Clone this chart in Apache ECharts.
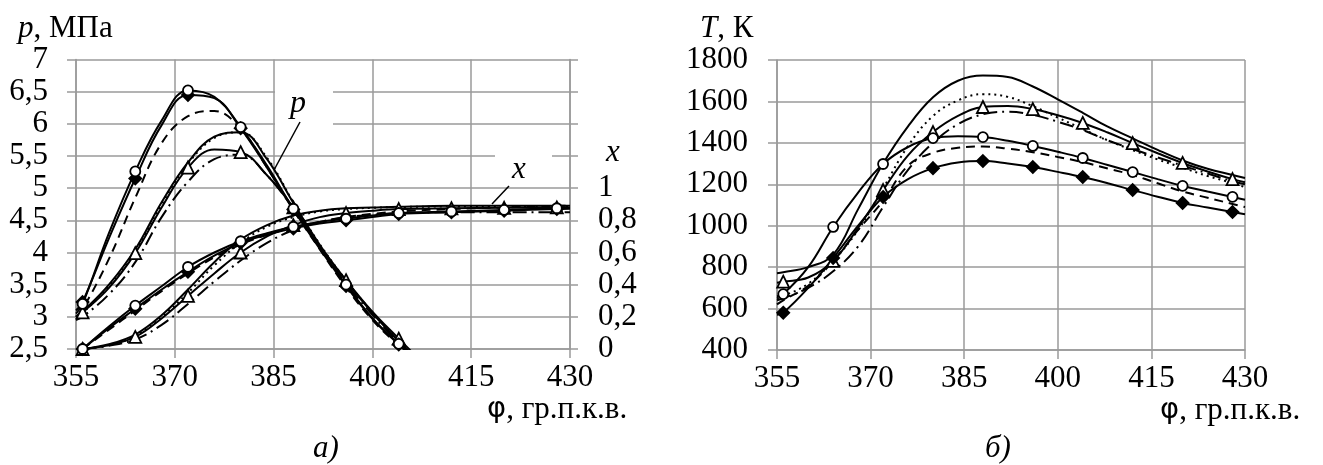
<!DOCTYPE html>
<html>
<head>
<meta charset="utf-8">
<script src="https://cdn.jsdelivr.net/npm/echarts@6/dist/echarts.min.js"></script>
<style>
html,body{margin:0;padding:0;background:#fff;}
#c{width:1323px;height:465px;}
</style>
</head>
<body>
<div id="c"></div>
<script>
// ---------- data: panel a) pressure p (MPa) ----------
const phiP = [355,356,360,364,368,372,376,380,384,388,392,396,400,404,408];
const pCircle  = [3.05,3.20,4.30,5.26,6.05,6.52,6.42,5.95,5.35,4.68,4.08,3.50,2.98,2.58,2.20];
const pDiamond = [3.10,3.23,4.22,5.15,5.98,6.45,6.40,5.93,5.32,4.67,4.06,3.48,2.97,2.57,2.18];
const pDashed  = [3.00,3.12,3.90,4.85,5.70,6.12,6.20,5.92,5.32,4.66,4.05,3.46,2.95,2.55,2.15];
const pSolid   = [3.00,3.08,3.50,4.05,4.78,5.40,5.80,5.87,5.45,4.77,4.12,3.56,3.06,2.62,2.22];
const pDotted  = [3.00,3.06,3.48,4.02,4.75,5.38,5.78,5.87,5.47,4.78,4.13,3.57,3.07,2.63,2.23];
const pTri     = [3.00,3.07,3.45,3.99,4.70,5.32,5.60,5.56,5.20,4.70,4.10,3.57,3.08,2.66,2.25];
const pDashDot = [2.95,3.00,3.35,3.85,4.55,5.10,5.45,5.52,5.20,4.68,4.08,3.52,3.03,2.60,2.20];

// ---------- data: panel a) burn fraction x ----------
const phiX = [356,360,364,368,372,376,380,384,388,392,396,400,404,412,420,428,430];
const xCircle  = [0,0.14,0.27,0.39,0.51,0.60,0.67,0.72,0.76,0.79,0.81,0.83,0.845,0.855,0.865,0.875,0.877];
const xDiamond = [0,0.13,0.25,0.37,0.48,0.58,0.66,0.71,0.75,0.78,0.80,0.82,0.84,0.85,0.86,0.87,0.872];
const xDashed  = [0,0.12,0.24,0.36,0.47,0.57,0.65,0.71,0.755,0.79,0.82,0.84,0.855,0.87,0.88,0.89,0.89];
const xSolid   = [0,0.03,0.09,0.21,0.37,0.54,0.68,0.77,0.83,0.86,0.875,0.88,0.885,0.89,0.89,0.89,0.89];
const xDotted  = [0,0.025,0.08,0.20,0.35,0.52,0.66,0.76,0.82,0.855,0.87,0.878,0.883,0.886,0.888,0.888,0.888];
const xTri     = [0,0.025,0.075,0.19,0.33,0.47,0.60,0.70,0.77,0.82,0.845,0.86,0.87,0.875,0.878,0.88,0.88];
const xDashDot = [0,0.02,0.06,0.15,0.28,0.42,0.55,0.66,0.74,0.79,0.82,0.835,0.845,0.85,0.85,0.85,0.85];

// ---------- data: panel б) temperature T (K) ----------
const phiT = [355,356,360,364,368,372,376,380,384,388,392,396,400,404,408,412,416,420,424,428,430];
const tSolid   = [770,775,800,860,1080,1300,1480,1620,1700,1725,1718,1672,1610,1545,1478,1422,1366,1315,1275,1245,1230];
const tDotted  = [650,660,720,830,980,1180,1385,1530,1605,1635,1622,1577,1522,1467,1412,1365,1320,1280,1240,1206,1186];
const tTri     = [725,730,750,830,990,1172,1340,1452,1530,1573,1578,1563,1533,1496,1450,1399,1350,1303,1262,1225,1210];
const tDashDot = [640,650,700,780,900,1090,1270,1400,1490,1538,1550,1535,1502,1462,1412,1370,1330,1290,1252,1215,1200];
const tCircle  = [660,670,800,994,1160,1298,1380,1423,1432,1428,1410,1385,1357,1327,1293,1259,1225,1192,1165,1139,1125];
const tDashed  = [620,640,710,830,980,1120,1290,1352,1376,1382,1372,1355,1332,1307,1276,1245,1205,1165,1135,1105,1090];
const tDiamond = [570,580,700,844,1000,1139,1225,1278,1305,1312,1300,1283,1260,1235,1205,1172,1140,1110,1088,1066,1055];

// tick labels
const xTicks = [355,370,385,400,415,430];

const FONT = 'Liberation Serif';
const FS = 31;
const GRID = '#9a9a9a';

const STY = {
  circle:  {dash:'solid', sym:'circle',   fill:'#fff', size:10},
  diamond: {dash:'solid', sym:'diamond',  fill:'#000', size:12},
  tri:     {dash:'solid', sym:'triangle', fill:'#fff', size:12},
  solid:   {dash:'solid', sym:'none'},
  dotted:  {dash:[2,4],   sym:'none'},
  dashed:  {dash:[9,6],   sym:'none'},
  dashdot: {dash:[14,5,2,5], sym:'none'}
};

function mk(xs, ys, st, xi, yi) {
  const s = STY[st];
  return {
    type:'line', xAxisIndex:xi, yAxisIndex:yi, smooth:0.4,
    data: xs.map((x,i)=>[x, ys[i]]),
    showAllSymbol:true,
    symbol: function(v){ return (s.sym !== 'none' && (v[0]-356)%8===0) ? s.sym : 'none'; },
    symbolSize: s.size || 0,
    itemStyle:{color:s.fill || '#000', borderColor:'#000', borderWidth:1.8},
    lineStyle:{color:'#000', width:2, type:s.dash},
    clip:true, silent:true, animation:false, z: st==='circle'||st==='diamond'||st==='tri' ? 4 : 3
  };
}

const series = [
  mk(phiP,pDashed,'dashed',0,0), mk(phiP,pDashDot,'dashdot',0,0), mk(phiP,pDotted,'dotted',0,0),
  mk(phiP,pSolid,'solid',0,0), mk(phiP,pTri,'tri',0,0), mk(phiP,pDiamond,'diamond',0,0), mk(phiP,pCircle,'circle',0,0),
  mk(phiX,xDashed,'dashed',0,1), mk(phiX,xDashDot,'dashdot',0,1), mk(phiX,xDotted,'dotted',0,1),
  mk(phiX,xSolid,'solid',0,1), mk(phiX,xTri,'tri',0,1), mk(phiX,xDiamond,'diamond',0,1), mk(phiX,xCircle,'circle',0,1),
  mk(phiT,tDashed,'dashed',1,2), mk(phiT,tDashDot,'dashdot',1,2), mk(phiT,tDotted,'dotted',1,2),
  mk(phiT,tSolid,'solid',1,2), mk(phiT,tTri,'tri',1,2), mk(phiT,tDiamond,'diamond',1,2), mk(phiT,tCircle,'circle',1,2)
];

const lbl = {fontFamily:FONT, fontSize:FS, color:'#000'};
const comma = v => String(+v.toFixed(2)).replace('.', ',');

function xAx(gi){
  return {gridIndex:gi, type:'value', min:xTicks[0], max:xTicks[xTicks.length-1], interval:15,
    axisLine:{show:true, lineStyle:{color:GRID, width:1.5}},
    axisTick:{show:true, length:9, lineStyle:{color:GRID, width:1.5}},
    splitLine:{show:true, lineStyle:{color:GRID, width:1.5}},
    axisLabel:Object.assign({margin:13, formatter:v => String(v)}, lbl)};
}

const richName = {s:{fontFamily:'DejaVu Sans', fontSize:FS-2}, t:{fontFamily:FONT, fontSize:FS}};

const option = {
  animation:false,
  grid:[{left:76, top:59.5, width:494, height:289.5},
        {left:777, top:60, width:468, height:290}],
  xAxis:[xAx(0), xAx(1)],
  yAxis:[
    {gridIndex:0, type:'value', min:2.5, max:7, interval:0.5, position:'left',
     axisLine:{show:true, lineStyle:{color:GRID, width:1.5}},
     axisTick:{show:true, length:9, lineStyle:{color:GRID, width:1.5}},
     splitLine:{show:true, lineStyle:{color:GRID, width:1.5}},
     axisLabel:Object.assign({margin:28, formatter:comma}, lbl)},
    {gridIndex:0, type:'value', min:0, max:1.8, interval:0.2, position:'right',
     axisLine:{show:true, lineStyle:{color:GRID, width:1.5}},
     axisTick:{show:true, length:8, lineStyle:{color:GRID, width:1.5}},
     splitLine:{show:false},
     axisLabel:Object.assign({margin:28, formatter:v => v <= 1.0001 ? comma(v) : ''}, lbl)},
    {gridIndex:1, type:'value', min:400, max:1800, interval:200, position:'left',
     axisLine:{show:true, lineStyle:{color:GRID, width:1.5}},
     axisTick:{show:true, length:9, lineStyle:{color:GRID, width:1.5}},
     splitLine:{show:true, lineStyle:{color:GRID, width:1.5}},
     axisLabel:Object.assign({margin:29, formatter:v => String(v)}, lbl)}
  ],
  series: series,
  graphic:[
    {type:'text', left:18, top:13, z:10, style:{text:'{i|p}, МПа', font:FS+'px '+FONT, fill:'#000',
      rich:{i:{fontStyle:'italic', fontFamily:FONT, fontSize:FS}}}},
    {type:'text', left:700, top:13, z:10, style:{text:'{i|T}, К', font:FS+'px '+FONT, fill:'#000',
      rich:{i:{fontStyle:'italic', fontFamily:FONT, fontSize:FS}}}},
    {type:'text', left:606, top:137, z:10, style:{text:'x', font:'italic '+FS+'px '+FONT, fill:'#000'}},
    {type:'text', left:487, top:394, z:10, style:{text:'{s|φ}{t|, гр.п.к.в.}', font:FS+'px '+FONT, fill:'#000', rich:richName}},
    {type:'text', left:1160, top:395, z:10, style:{text:'{s|φ}{t|, гр.п.к.в.}', font:FS+'px '+FONT, fill:'#000', rich:richName}},
    {type:'text', left:313, top:433, z:10, style:{text:'а)', font:'italic '+FS+'px '+FONT, fill:'#000'}},
    {type:'text', left:985, top:433, z:10, style:{text:'б)', font:'italic '+FS+'px '+FONT, fill:'#000'}},
    // annotation p
    {type:'rect', z:1, shape:{x:275, y:84, width:58, height:43}, style:{fill:'#fff'}},
    {type:'text', left:290, top:88, z:10, style:{text:'p', font:'italic 32px '+FONT, fill:'#000'}},
    {type:'line', z:10, shape:{x1:300, y1:122, x2:274, y2:170}, style:{stroke:'#000', lineWidth:1.5}},
    // annotation x
    {type:'rect', z:1, shape:{x:495, y:146, width:57, height:38}, style:{fill:'#fff'}},
    {type:'text', left:512, top:154, z:10, style:{text:'x', font:'italic '+FS+'px '+FONT, fill:'#000'}},
    {type:'line', z:10, shape:{x1:509, y1:186, x2:492, y2:204}, style:{stroke:'#000', lineWidth:1.5}}
  ]
};

const chart = echarts.init(document.getElementById('c'), null, {renderer:'canvas'});
chart.setOption(option);
</script>
</body>
</html>
